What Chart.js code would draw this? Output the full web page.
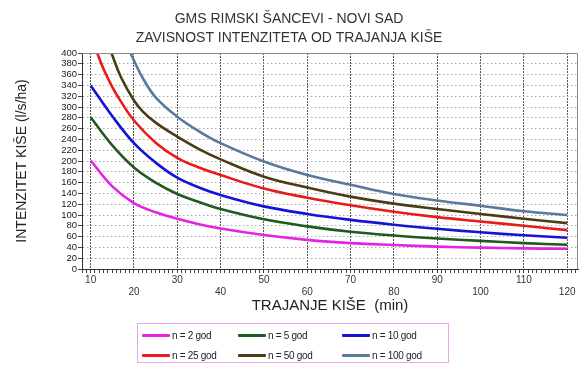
<!DOCTYPE html>
<html>
<head>
<meta charset="utf-8">
<script src="https://cdn.jsdelivr.net/npm/chart.js@4.4.1/dist/chart.umd.min.js"></script>
<style>
  body { margin: 0; background: #fff; }
  #wrap { position: relative; width: 584px; height: 365px; }
  #legend {
    position: absolute; left: 137px; top: 323px; width: 312px; height: 40px;
    border: 1px solid #e8a8e8; box-sizing: border-box;
    font-family: "Liberation Sans", Arial, sans-serif; font-size: 10px; color: #222;
  }
  .item { position: absolute; display: flex; align-items: center; height: 12px; letter-spacing: -0.3px; }
  .swatch { display: inline-block; width: 28px; height: 3px; margin-right: 2px; border-radius: 1px; }
</style>
</head>
<body>
<div id="wrap">
  <canvas id="chart" width="584" height="365"></canvas>
  <div id="legend"></div>
</div>
<script>
// durations (min) for each curve, values in l/s/ha
const durations = [10, 15, 20, 25, 30, 35, 40, 50, 60, 70, 80, 90, 100, 110, 120];
const durationsN25 = [11.5, 13, 15, 17, 20, 25, 30, 35, 40, 50, 60, 70, 80, 90, 100, 110, 120];
const durationsN50 = [14.8, 17, 20, 22, 25, 30, 35, 40, 50, 60, 70, 80, 90, 100, 110, 120];
const durationsN100 = [19.2, 20, 22, 25, 30, 35, 40, 50, 60, 70, 80, 90, 100, 110, 120];

const n2 = [201, 153, 122, 105, 93, 83, 75, 63, 54, 48, 44.5, 41.5, 39.5, 38.2, 37.5];
const n5 = [281, 229, 188, 160, 139, 124, 111, 92, 79, 69, 62, 56.5, 52, 48, 45];
const n10 = [340, 283, 233, 197, 169, 151, 137, 116, 102, 91, 82, 74.5, 68, 62.5, 58];
const n25 = [400, 370, 337, 310, 275, 234, 206, 188, 174, 149, 132, 118, 106, 96, 88, 80, 72];
const n50 = [400, 355, 312, 292, 271, 245, 222, 203, 171, 151, 134, 121, 111, 102, 93, 85];
const n100 = [400, 386, 354, 318, 282, 255, 233, 199, 174, 156, 139, 127, 117, 107, 100];

const seriesLabels = ['n = 2 god', 'n = 5 god', 'n = 10 god', 'n = 25 god', 'n = 50 god', 'n = 100 god'];
const seriesColors = ['#e324e3', '#1f5a1f', '#1414d8', '#e81a1a', '#4a3c14', '#5a7a9c'];
const seriesX = [durations, durations, durations, durationsN25, durationsN50, durationsN100];
const seriesY = [n2, n5, n10, n25, n50, n100];

const xMajorTicks = [10, 20, 30, 40, 50, 60, 70, 80, 90, 100, 110, 120];

const font = "'Liberation Sans', Arial, sans-serif";

const datasets = seriesY.map((vals, i) => ({
    label: seriesLabels[i],
    data: vals.map((v, j) => ({ x: seriesX[i][j], y: v })),
    borderColor: seriesColors[i],
    borderWidth: 2.6,
    pointRadius: 0,
    tension: 0.4,
    fill: false
}));

const frame = {
    id: 'frame',
    afterDraw(chart) {
        const { ctx, chartArea: a } = chart;
        ctx.save();
        ctx.strokeStyle = '#8a8a8a';
        ctx.lineWidth = 1;
        ctx.beginPath();
        ctx.moveTo(a.left, a.top + 0.5);
        ctx.lineTo(a.right - 0.5, a.top + 0.5);
        ctx.lineTo(a.right - 0.5, a.bottom);
        ctx.stroke();
        ctx.restore();
    }
};

new Chart(document.getElementById('chart'), {
    type: 'line',
    data: { datasets: datasets },
    options: {
        responsive: false,
        animation: false,
        layout: { padding: { left: 0, right: 6, top: 0, bottom: 50 } },
        plugins: {
            legend: { display: false },
            tooltip: { enabled: false },
            title: {
                display: true,
                text: ['GMS RIMSKI ŠANCEVI - NOVI SAD', 'ZAVISNOST INTENZITETA OD TRAJANJA KIŠE'],
                color: '#333',
                font: { family: font, size: 14, weight: 'normal', lineHeight: 1.35 },
                padding: { top: 10, bottom: 5.2 }
            }
        },
        scales: {
            x: {
                type: 'linear',
                min: 8,
                max: 122.5,
                afterBuildTicks: scale => {
                    const t = [];
                    for (let v = 8; v <= 122; v++) t.push({ value: v });
                    scale.ticks = t;
                },
                afterFit: scale => { scale.height = 46; },
                ticks: {
                    autoSkip: false,
                    maxRotation: 0,
                    padding: 1,
                    color: '#333',
                    font: { family: font, size: 10 },
                    callback: v => {
                        if (!xMajorTicks.includes(v)) return '';
                        return v % 20 === 10 ? String(v) : ['', String(v)];
                    }
                },
                grid: {
                    color: c => xMajorTicks.includes(c.tick && c.tick.value) ? '#555' : 'rgba(0,0,0,0)',
                    tickColor: '#444',
                    tickLength: 4,
                    lineWidth: 1
                },
                border: { display: true, color: '#333', dash: [2, 1] },
                title: {
                    display: true,
                    text: 'TRAJANJE KIŠE  (min)',
                    color: '#222',
                    font: { family: font, size: 15 },
                    padding: { top: 0, bottom: 0 }
                }
            },
            y: {
                min: 0,
                max: 400,
                afterFit: scale => { scale.width = 82; },
                ticks: {
                    stepSize: 20,
                    autoSkip: false,
                    padding: 1,
                    color: '#222',
                    font: { family: font, size: 9.5 }
                },
                grid: {
                    color: c => (c.tick && c.tick.value > 0 && c.tick.value < 400) ? '#a8a8a8' : 'rgba(0,0,0,0)',
                    tickColor: '#444',
                    tickLength: 4
                },
                border: { display: true, color: '#333', dash: [1.5, 2.5] },
                title: {
                    display: true,
                    text: 'INTENZITET KIŠE (l/s/ha)',
                    color: '#222',
                    font: { family: font, size: 14 },
                    padding: { top: 14, bottom: 0 }
                }
            }
        }
    },
    plugins: [frame]
});

// legend: 3 columns x 2 rows
const legendEl = document.getElementById('legend');
const colLeft = [4, 100, 204];
const rowTop = [5, 25];
seriesLabels.forEach((lab, i) => {
    const it = document.createElement('div');
    it.className = 'item';
    it.style.left = colLeft[i % 3] + 'px';
    it.style.top = rowTop[Math.floor(i / 3)] + 'px';
    const sw = document.createElement('span');
    sw.className = 'swatch';
    sw.style.background = seriesColors[i];
    it.appendChild(sw);
    it.appendChild(document.createTextNode(lab));
    legendEl.appendChild(it);
});
</script>
</body>
</html>
